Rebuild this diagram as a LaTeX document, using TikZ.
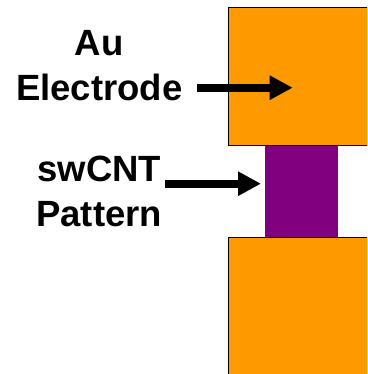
\documentclass[tikz,border=0pt]{standalone}
\usepackage{fontspec}
\setmainfont{Liberation Sans}
\usetikzlibrary{arrows.meta}
\definecolor{padorange}{HTML}{FF9900}
\definecolor{cntpurple}{HTML}{800080}
\tikzset{
  labeltext/.style={font=\bfseries\fontsize{36.5}{44}\selectfont, inner sep=0pt, anchor=base},
  pointer/.style={line width=8.2pt, -{Triangle[length=23pt,width=23pt]}},
  pad/.style={fill=padorange, draw=black, line width=1.3pt},
}
\begin{document}
\begin{tikzpicture}[x=1pt, y=-1pt]
  \useasboundingbox (0,0) rectangle (367,374);
  \clip (0,0) rectangle (367,374);
  % swCNT channel between the pads
  \fill[cntpurple] (265,144) rectangle (337.7,238);
  % Au electrodes
  \draw[pad] (228.7,7.3) rectangle (380,145.7);
  \draw[pad] (228.7,237.3) rectangle (380,390);

  % labels
  \node[labeltext] (au) at (99,55.7) {Au};
  \node[labeltext] (electrode) at (99.3,100.7) {Electrode};
  \node[labeltext] (swcnt) at (99.2,181.7) {swCNT};
  \node[labeltext] (pattern) at (99.2,226.7) {Pattern};

  % pointers
  \coordinate (etail) at (197.3,87.7);
  \coordinate (etip) at (292.7,87.7);
  \coordinate (ctail) at (165,183.7);
  \coordinate (ctip) at (261,183.7);
  \draw[pointer] (etail) -- (etip);
  \draw[pointer] (ctail) -- (ctip);
\end{tikzpicture}
\end{document}
